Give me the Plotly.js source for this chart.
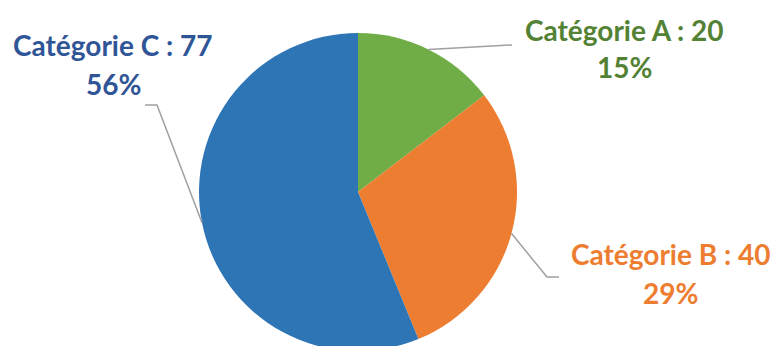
<!DOCTYPE html>
<html>
<head>
<meta charset="utf-8">
<script src="https://cdn.plot.ly/plotly-3.0.1.min.js"></script>
<style>
html,body{margin:0;padding:0;overflow:hidden;background:#fff;}
#chart{width:777px;height:351px;}
</style>
</head>
<body>
<div id="chart"></div>
<script>
const categories = ['Catégorie A', 'Catégorie B', 'Catégorie C'];
const values = [20, 40, 77];
const sliceColors = ['#70AD47', '#ED7D31', '#2E75B6'];
const labelColors = ['#548235', '#ED7D31', '#2F5597'];

const W = 777, H = 351;
const cx = 358, cy = 192, R = 159;
// label placement (pixels): centre of first line, centre of second line
const labelPos = [
  {x: 624, y1: 30, y2: 67},
  {x: 670, y1: 254, y2: 293},
  {x: 113, y1: 45, y2: 84}
];
// leader line elbow/end points (pixels)
const leaderPts = [
  [[512, 45]],
  [[547, 277], [559, 277]],
  [[157, 105], [145, 105]]
];

const px = x => x / W;
const py = y => (H - y) / H;

const total = values.reduce((a, b) => a + b, 0);
const annotations = [];
const shapes = [];
const font = 'Lato, "Open Sans", sans-serif';
let cum = 0;
values.forEach((v, i) => {
  const mid = (cum + v / 2) / total * 2 * Math.PI;
  cum += v;
  const sx = cx + R * Math.sin(mid), sy = cy - R * Math.cos(mid);
  let path = 'M' + px(sx) + ',' + py(sy);
  leaderPts[i].forEach(p => { path += ' L' + px(p[0]) + ',' + py(p[1]); });
  shapes.push({type: 'path', xref: 'paper', yref: 'paper', path: path,
    line: {color: '#A0A0A0', width: 1.5}});
  const lp = labelPos[i];
  annotations.push({xref: 'paper', yref: 'paper', x: px(lp.x), y: py(lp.y1),
    xanchor: 'center', yanchor: 'middle', showarrow: false,
    text: categories[i] + ' : ' + v,
    font: {family: font, size: 28, color: labelColors[i], weight: 700}});
  annotations.push({xref: 'paper', yref: 'paper', x: px(lp.x), y: py(lp.y2),
    xanchor: 'center', yanchor: 'middle', showarrow: false,
    text: Math.round(v / total * 100) + '%',
    font: {family: font, size: 28, color: labelColors[i], weight: 700}});
});

const trace = {
  type: 'pie',
  labels: categories,
  values: values,
  sort: false,
  direction: 'clockwise',
  rotation: 0,
  textinfo: 'none',
  hoverinfo: 'label+value+percent',
  marker: {colors: sliceColors, line: {width: 0}},
  domain: {x: [(cx - R) / W, (cx + R) / W], y: [(H - (cy + R)) / H, (H - (cy - R)) / H]},
  showlegend: false
};

Plotly.newPlot('chart', [trace], {
  width: W, height: H,
  margin: {l: 0, r: 0, t: 0, b: 0},
  paper_bgcolor: '#fff',
  showlegend: false,
  shapes: shapes,
  annotations: annotations
}, {displayModeBar: false, staticPlot: true});
</script>
</body>
</html>
